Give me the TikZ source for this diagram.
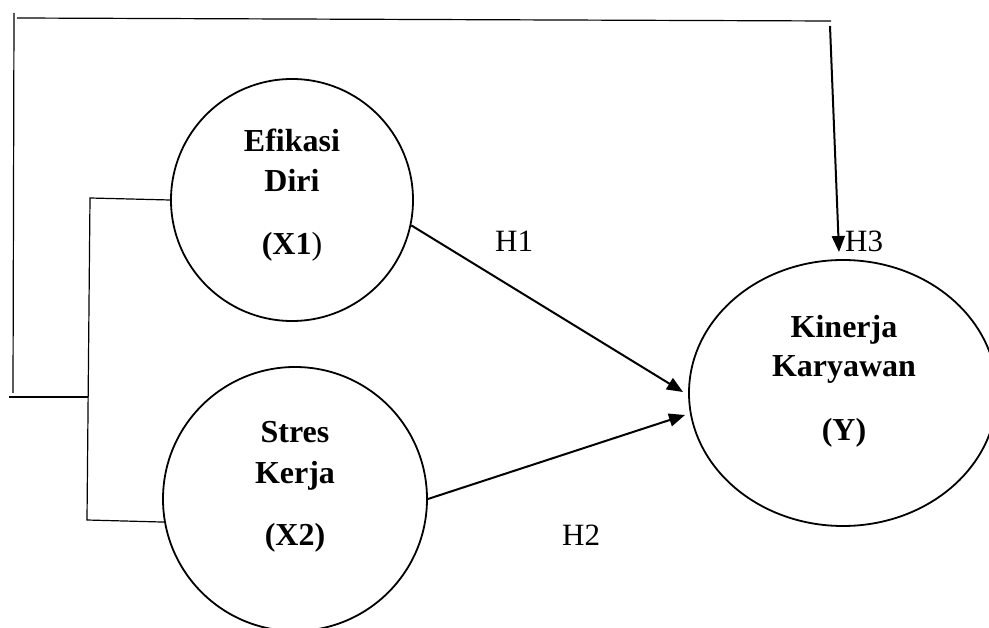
\documentclass[tikz,border=0pt]{standalone}
\usepackage{fontspec}
\setmainfont{Liberation Serif}
\usetikzlibrary{arrows.meta,shapes.geometric}
\begin{document}
\begin{tikzpicture}[x=1pt,y=-1pt,
  latent/.style={circle,draw,line width=1.8pt,inner sep=0pt},
  vlabel/.style={anchor=base,font=\fontsize{32}{38}\selectfont\bfseries,inner sep=0pt},
  hlabel/.style={anchor=base west,font=\fontsize{31}{37}\selectfont,inner sep=0pt},
  bracket/.style={line width=1.2pt},
  effect/.style={line width=2pt,-{Triangle[length=16pt,width=13pt]}}
]
\useasboundingbox (0,0) rectangle (989,628);
% latent variables
\node[latent,minimum size=242pt] (X1) at (292,200) {};
\node[latent,minimum size=264pt] (X2) at (295,499) {};
\node[ellipse,draw,line width=1.8pt,inner sep=0pt,minimum width=308pt,minimum height=266pt] (Y) at (843,393) {};
% labels
\node[vlabel] (x1a) at (292,152) {Efikasi};
\node[vlabel] (x1b) at (292,192) {Diri};
\node[vlabel] (x1c) at (292,255) {(X1{\mdseries)}};
\node[vlabel] (x2a) at (295,443) {Stres};
\node[vlabel] (x2b) at (295,483) {Kerja};
\node[vlabel] (x2c) at (295,545) {(X2)};
\node[vlabel] (ya) at (844,338) {Kinerja};
\node[vlabel] (yb) at (844,377) {Karyawan};
\node[vlabel] (yc) at (844,441) {(Y)};
\node[hlabel] (h1) at (495,252) {H1};
\node[hlabel] (h2) at (562,545) {H2};
\node[hlabel] (h3) at (845,252) {H3};
% coordinates
\coordinate (t1) at (683,392);
\coordinate (t2) at (685,415);
\coordinate (b1) at (90,198);
\coordinate (b2) at (87,520);
\coordinate (b3) at (88,397);
\coordinate (o1) at (9,397);
\coordinate (o2) at (13,393);
\coordinate (o3) at (14,13);
\coordinate (o4) at (17,18);
\coordinate (o5) at (831,21);
\coordinate (o6) at (830,26);
\coordinate (t3) at (839,252);
% connectors
\draw[effect] (X1.-12) -- (t1);
\draw[effect] (X2.east) -- (t2);
\draw[bracket] (X1.west) -- (b1) -- (b2) -- (X2.190);
\draw[bracket] (b3) -- (o1);
\draw[bracket] (o2) -- (o3);
\draw[bracket] (o4) -- (o5);
\draw[effect] (o6) -- (t3);
\end{tikzpicture}
\end{document}
